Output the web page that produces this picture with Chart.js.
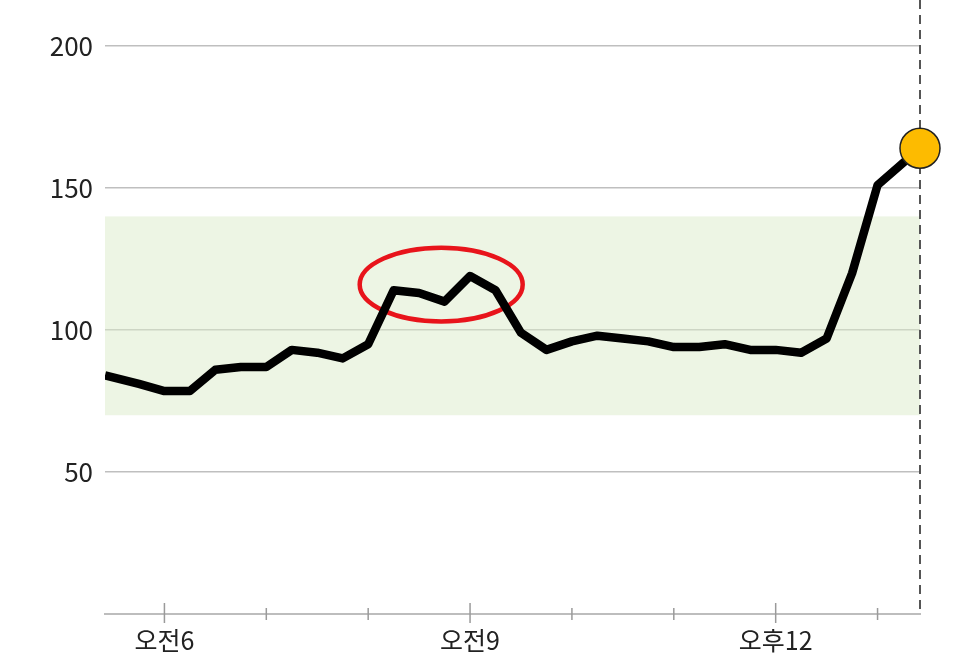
<!DOCTYPE html>
<html>
<head>
<meta charset="utf-8">
<script src="https://cdn.jsdelivr.net/npm/chart.js@4"></script>
<style>
  html, body { margin: 0; padding: 0; background: #ffffff; }
  #wrap { width: 966px; height: 669px; }
</style>
</head>
<body>
<div id="wrap"><canvas id="c" width="966" height="669"></canvas></div>
<script>
// ---- data ----
const times = ['5:25','5:45','6:00','6:15','6:30','6:45','7:00','7:15','7:30','7:45',
               '8:00','8:15','8:30','8:45','9:00','9:15','9:30','9:45','10:00','10:15',
               '10:30','10:45','11:00','11:15','11:30','11:45','12:00','12:15','12:30','12:45',
               '13:00','13:25'];
const values = [84, 81, 78.5, 78.5, 86, 87, 87, 93, 92, 90,
                95, 114, 113, 110, 119, 114, 99, 93, 96, 98,
                97, 96, 94, 94, 95, 93, 93, 92, 97, 120,
                151, 164];
const tickHours = [6, 7, 8, 9, 10, 11, 12, 13];
const tickLabels = ['오전6', '', '', '오전9', '', '', '오후12', ''];
const yTicks = [50, 100, 150, 200];
const bandRange = [70, 140];
const highlightCenter = ['8:43', 116];
const highlightHalfSize = [48 / 60, 13]; // hours, value units

// ---- helpers ----
const toHours = s => { const [h, m] = s.split(':').map(Number); return h + m / 60; };
const points = times.map((t, i) => ({ x: toHours(t), y: values[i] }));
const last = points[points.length - 1];

Chart.defaults.font.family = "'Noto Sans CJK KR', 'Noto Sans', sans-serif";
Chart.defaults.color = '#222';

const overlay = {
  id: 'overlay',
  beforeDatasetsDraw(chart) {
    const { ctx, chartArea: a, scales: { x, y } } = chart;
    ctx.save();
    // normal range band
    const yTop = y.getPixelForValue(bandRange[1]);
    const yBot = y.getPixelForValue(bandRange[0]);
    ctx.fillStyle = 'rgba(219,235,201,0.5)';
    ctx.fillRect(a.left, yTop, a.right - a.left, yBot - yTop);
    // x tick marks
    ctx.strokeStyle = '#9a9a9a';
    ctx.lineWidth = 1.5;
    tickHours.forEach((h, i) => {
      const px = x.getPixelForValue(h);
      const major = tickLabels[i] !== '';
      ctx.beginPath();
      ctx.moveTo(px, a.bottom - (major ? 11 : 6));
      ctx.lineTo(px, a.bottom + (major ? 9 : 6));
      ctx.stroke();
    });
    // dashed "now" line
    const nx = x.getPixelForValue(last.x);
    ctx.strokeStyle = '#555';
    ctx.lineWidth = 2;
    ctx.setLineDash([9, 6]);
    ctx.beginPath();
    ctx.moveTo(nx, 0);
    ctx.lineTo(nx, a.bottom);
    ctx.stroke();
    ctx.setLineDash([]);
    // highlight ellipse
    const cx = x.getPixelForValue(toHours(highlightCenter[0]));
    const cy = y.getPixelForValue(highlightCenter[1]);
    const rx = Math.abs(x.getPixelForValue(toHours(highlightCenter[0]) + highlightHalfSize[0]) - cx);
    const ry = Math.abs(y.getPixelForValue(highlightCenter[1] + highlightHalfSize[1]) - cy);
    ctx.strokeStyle = '#e8141b';
    ctx.lineWidth = 4.5;
    ctx.beginPath();
    ctx.ellipse(cx, cy, rx, ry, 0, 0, Math.PI * 2);
    ctx.stroke();
    ctx.restore();
  }
};

new Chart(document.getElementById('c'), {
  type: 'scatter',
  data: {
    datasets: [
      {
        data: [last],
        order: 0,
        showLine: false,
        pointRadius: 20,
        pointHoverRadius: 20,
        pointBackgroundColor: '#fdbb00',
        pointBorderColor: '#222',
        pointBorderWidth: 1.5,
        clip: false
      },
      {
        data: points,
        order: 1,
        showLine: true,
        borderColor: '#000',
        borderWidth: 8.5,
        borderJoinStyle: 'round',
        pointRadius: 0,
        tension: 0,
        fill: false
      }
    ]
  },
  options: {
    responsive: false,
    animation: false,
    events: [],
    layout: { padding: { top: 46, right: 46, left: 0, bottom: 0 } },
    plugins: { legend: { display: false }, tooltip: { enabled: false } },
    scales: {
      x: {
        type: 'linear',
        min: points[0].x,
        max: last.x,
        afterBuildTicks: s => { s.ticks = tickHours.map(v => ({ value: v })); },
        afterFit: s => { s.height = 55; },
        grid: { display: false, drawTicks: false },
        border: { display: true, color: '#bdbdbd', width: 2 },
        ticks: {
          autoSkip: false,
          maxRotation: 0,
          padding: 11,
          color: '#222',
          font: { size: 25 },
          callback: v => { const i = tickHours.indexOf(v); return i >= 0 ? tickLabels[i] : ''; }
        }
      },
      y: {
        min: 0,
        max: 200,
        afterBuildTicks: s => { s.ticks = yTicks.map(v => ({ value: v })); },
        afterFit: s => { s.width = 105; },
        grid: { color: '#bfbfbf', lineWidth: 1.5, drawTicks: false },
        border: { display: false },
        ticks: { padding: 12, color: '#222', font: { size: 26 } }
      }
    }
  },
  plugins: [overlay]
});
</script>
</body>
</html>
